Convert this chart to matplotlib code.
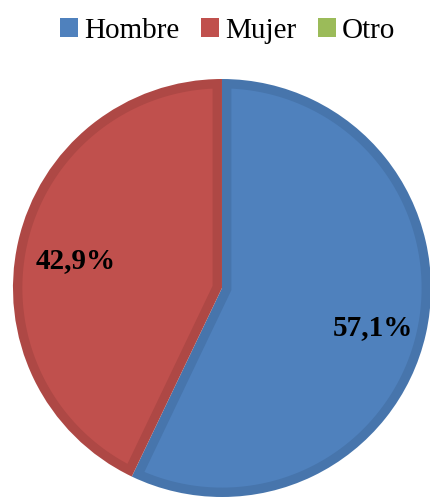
import numpy as np
import matplotlib.pyplot as plt
from matplotlib.patches import Patch, Polygon

# Datos
categorias = ['Hombre', 'Mujer', 'Otro']
valores = [57.1, 42.9, 0.0]
colores = ['#4F81BD', '#C0504D', '#9BBB59']
bordes = ['#4775AC', '#AE4845', '#8CA950']

plt.rcParams['font.family'] = ['Liberation Serif', 'DejaVu Serif']

fig = plt.figure(figsize=(4.31, 4.97), dpi=100)
ax = fig.add_axes([0, 0, 1, 1])

# pie base con el color del borde
wedges, textos, pcts = ax.pie(
    valores, colors=bordes, startangle=90, counterclock=False,
    autopct=lambda p: f'{p:.1f}%'.replace('.', ',') if p > 0 else '',
    pctdistance=0.73, radius=1.0, wedgeprops={'linewidth': 0},
    textprops={'fontsize': 21, 'fontweight': 'bold', 'color': 'black'})

# relleno interior: misma porcion con un borde oscuro de grosor d
d = 0.045
r = 1.0 - d
for w, c in zip(wedges, colores):
    t1, t2 = np.radians(w.theta1), np.radians(w.theta2)
    if t2 - t1 <= 0:
        continue
    m = (t1 + t2) / 2
    s = d / np.sin((t2 - t1) / 2)
    cen = np.array([s * np.cos(m), s * np.sin(m)])
    angs = []
    for t in (t1, t2):
        u = np.array([np.cos(t), np.sin(t)])
        cu = cen @ u
        lam = -cu + np.sqrt(cu ** 2 - cen @ cen + r ** 2)
        p = cen + lam * u
        angs.append(np.arctan2(p[1], p[0]))
    a1, a2 = angs
    if a2 < a1:
        a2 += 2 * np.pi
    arco = np.linspace(a1, a2, 200)
    pts = np.vstack([cen, np.column_stack([r * np.cos(arco), r * np.sin(arco)])])
    ax.add_patch(Polygon(pts, closed=True, facecolor=c, edgecolor='none'))

for t in pcts:
    x, y = t.get_position()
    t.set_position((x + 0.01, y - 0.03))
    t.set_zorder(5)

ax.set_xlim(-1.062, 1.0)
ax.set_ylim(-1.0, 1.378)
ax.set_aspect('auto')
ax.axis('off')

handles = [Patch(facecolor=c, edgecolor='none') for c in colores]
fig.legend(handles, categorias, loc='upper center', bbox_to_anchor=(0.529, 1.017),
           ncol=3, frameon=False, fontsize=21, handlelength=0.62, handleheight=0.62,
           handletextpad=0.2, columnspacing=0.75)

fig.savefig('out.png', dpi=100)
